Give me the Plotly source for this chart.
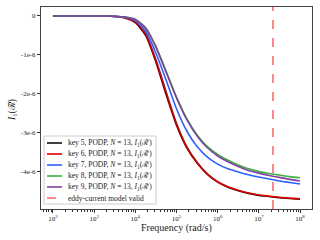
import plotly.graph_objects as go

# ---- data ----
freq_exponents = [2, 2.5, 3, 3.25, 3.5, 3.75, 4, 4.25, 4.5, 4.75, 5, 5.25, 5.5,
                  5.75, 6, 6.25, 6.5, 6.75, 7, 7.25, 7.5, 7.75, 8]
key5 = [0, 0, 0, -0.002, -0.013, -0.05, -0.17, -0.5, -1.18, -2.02, -2.8, -3.38, -3.77,
        -4.06, -4.26, -4.39, -4.48, -4.55, -4.6, -4.63, -4.66, -4.68, -4.70]
key6 = [0, 0, 0, -0.002, -0.012, -0.045, -0.15, -0.45, -1.12, -1.95, -2.75, -3.35, -3.75,
        -4.05, -4.25, -4.38, -4.47, -4.54, -4.59, -4.62, -4.65, -4.67, -4.69]
key7 = [0, 0, 0, -0.002, -0.01, -0.035, -0.12, -0.38, -0.95, -1.65, -2.38, -2.95, -3.35,
        -3.62, -3.8, -3.92, -4.0, -4.07, -4.13, -4.18, -4.23, -4.27, -4.31]
key8 = [0, 0, 0, -0.001, -0.008, -0.03, -0.09, -0.3, -0.78, -1.42, -2.08, -2.63, -3.05,
        -3.35, -3.55, -3.7, -3.82, -3.92, -3.99, -4.04, -4.08, -4.12, -4.15]
key9 = [0, 0, 0, -0.001, -0.008, -0.03, -0.09, -0.31, -0.8, -1.45, -2.1, -2.66, -3.08,
        -3.38, -3.59, -3.74, -3.86, -3.96, -4.03, -4.09, -4.14, -4.19, -4.23]
value_scale = 1e-6
valid_limit = 2.2e7

series_names = [
    "key 5, PODP, <i>N</i> = 13, <i>I</i><sub>1</sub>(ℛ̃)",
    "key 6, PODP, <i>N</i> = 13, <i>I</i><sub>1</sub>(ℛ̃)",
    "key 7, PODP, <i>N</i> = 13, <i>I</i><sub>1</sub>(ℛ̃)",
    "key 8, PODP, <i>N</i> = 13, <i>I</i><sub>1</sub>(ℛ̃)",
    "key 9, PODP, <i>N</i> = 13, <i>I</i><sub>1</sub>(ℛ̃)",
]
valid_name = "eddy-current model valid"
series_values = [key5, key6, key7, key8, key9]
series_colors = ["#111111", "#e00000", "#2a62ff", "#3cb03c", "#8040a8"]
valid_color = "rgba(255,60,60,0.75)"

y_tick_vals = [0, -1e-6, -2e-6, -3e-6, -4e-6]
y_tick_text = ["0", "-1e-6", "-2e-6", "-3e-6", "-4e-6"]
x_tick_exps = [2, 3, 4, 5, 6, 7, 8]
x_title = "Frequency (rad/s)"
y_title = "<i>I</i><sub>1</sub>(ℛ̃)"

FONT = "Liberation Serif"
freqs = [10 ** e for e in freq_exponents]

fig = go.Figure()
for name, vals, col in zip(series_names, series_values, series_colors):
    fig.add_trace(go.Scatter(
        x=freqs, y=[v * value_scale for v in vals], mode="lines",
        line=dict(color=col, width=1.6, shape="spline", smoothing=0.6),
        name=name, showlegend=False, hoverinfo="skip"))

fig.add_shape(type="line", xref="x", yref="paper", x0=valid_limit, x1=valid_limit,
              y0=0, y1=1, line=dict(color=valid_color, width=1.6, dash="dash"))

# minor ticks for log axis
minor_vals = [m * 10 ** e for e in range(1, 9) for m in range(2, 10)]

fig.update_xaxes(
    type="log", range=[1.71, 8.29], automargin=False,
    tickvals=[10 ** e for e in x_tick_exps],
    ticktext=[f"10<sup>{e}</sup>" for e in x_tick_exps],
    ticks="outside", ticklen=3, tickwidth=1, tickcolor="#333",
    minor=dict(tickvals=minor_vals, ticks="outside", ticklen=1.5, tickcolor="#333"),
    showline=True, linecolor="#444", linewidth=1, mirror=True, showgrid=False,
    zeroline=False, tickfont=dict(family=FONT, size=7, color="#222"),
)
fig.update_yaxes(
    range=[-4.95e-6, 0.23e-6], automargin=False,
    tickvals=y_tick_vals, ticktext=y_tick_text,
    ticks="outside", ticklen=3, tickwidth=1, tickcolor="#333",
    showline=True, linecolor="#444", linewidth=1, mirror=True, showgrid=False,
    zeroline=False, tickfont=dict(family=FONT, size=7, color="#222"),
)

# ---- pixel -> paper coordinate helpers ----
pl, pw, pt, ph = 41, 271, 7, 202


def px_x(px):
    return (px - pl) / pw


def px_y(py):
    return (pt + ph - py) / ph


# axis titles
fig.add_annotation(xref="paper", yref="paper", x=px_x(176), y=px_y(228), text=x_title,
                   showarrow=False, xanchor="center", yanchor="middle",
                   font=dict(family=FONT, size=10, color="#222"))
fig.add_annotation(xref="paper", yref="paper", x=px_x(12), y=px_y(110), text=y_title,
                   showarrow=False, xanchor="center", yanchor="middle", textangle=-90,
                   font=dict(family=FONT, size=9.5, color="#222"))

# legend box
fig.add_shape(type="rect", xref="paper", yref="paper",
              x0=px_x(44), x1=px_x(156), y0=px_y(204), y1=px_y(136),
              line=dict(color="#cccccc", width=1), fillcolor="rgba(255,255,255,0.85)")
legend_rows = [143, 154, 165, 176, 187, 198]
labels = series_names + [valid_name]
colors = series_colors + [valid_color]
for i, (lab, col) in enumerate(zip(labels, colors)):
    yy = legend_rows[i]
    fig.add_shape(type="line", xref="paper", yref="paper",
                  x0=px_x(47), x1=px_x(62), y0=px_y(yy), y1=px_y(yy),
                  line=dict(color=col, width=1.6, dash="dash" if i == 5 else "solid"))
    fig.add_annotation(xref="paper", yref="paper", x=px_x(66), y=px_y(yy),
                       text=lab, showarrow=False, xanchor="left", yanchor="middle",
                       font=dict(family=FONT, size=7.5, color="#222"))

fig.update_layout(
    width=320, height=240,
    margin=dict(l=41, r=8, t=7, b=31),
    paper_bgcolor="white", plot_bgcolor="white",
    showlegend=False, hovermode=False,
)

fig.write_html(
    "out.html",
    config={"displayModeBar": False, "staticPlot": True},
    post_script="document.body.style.margin='0';document.body.style.overflow='hidden';",
)
